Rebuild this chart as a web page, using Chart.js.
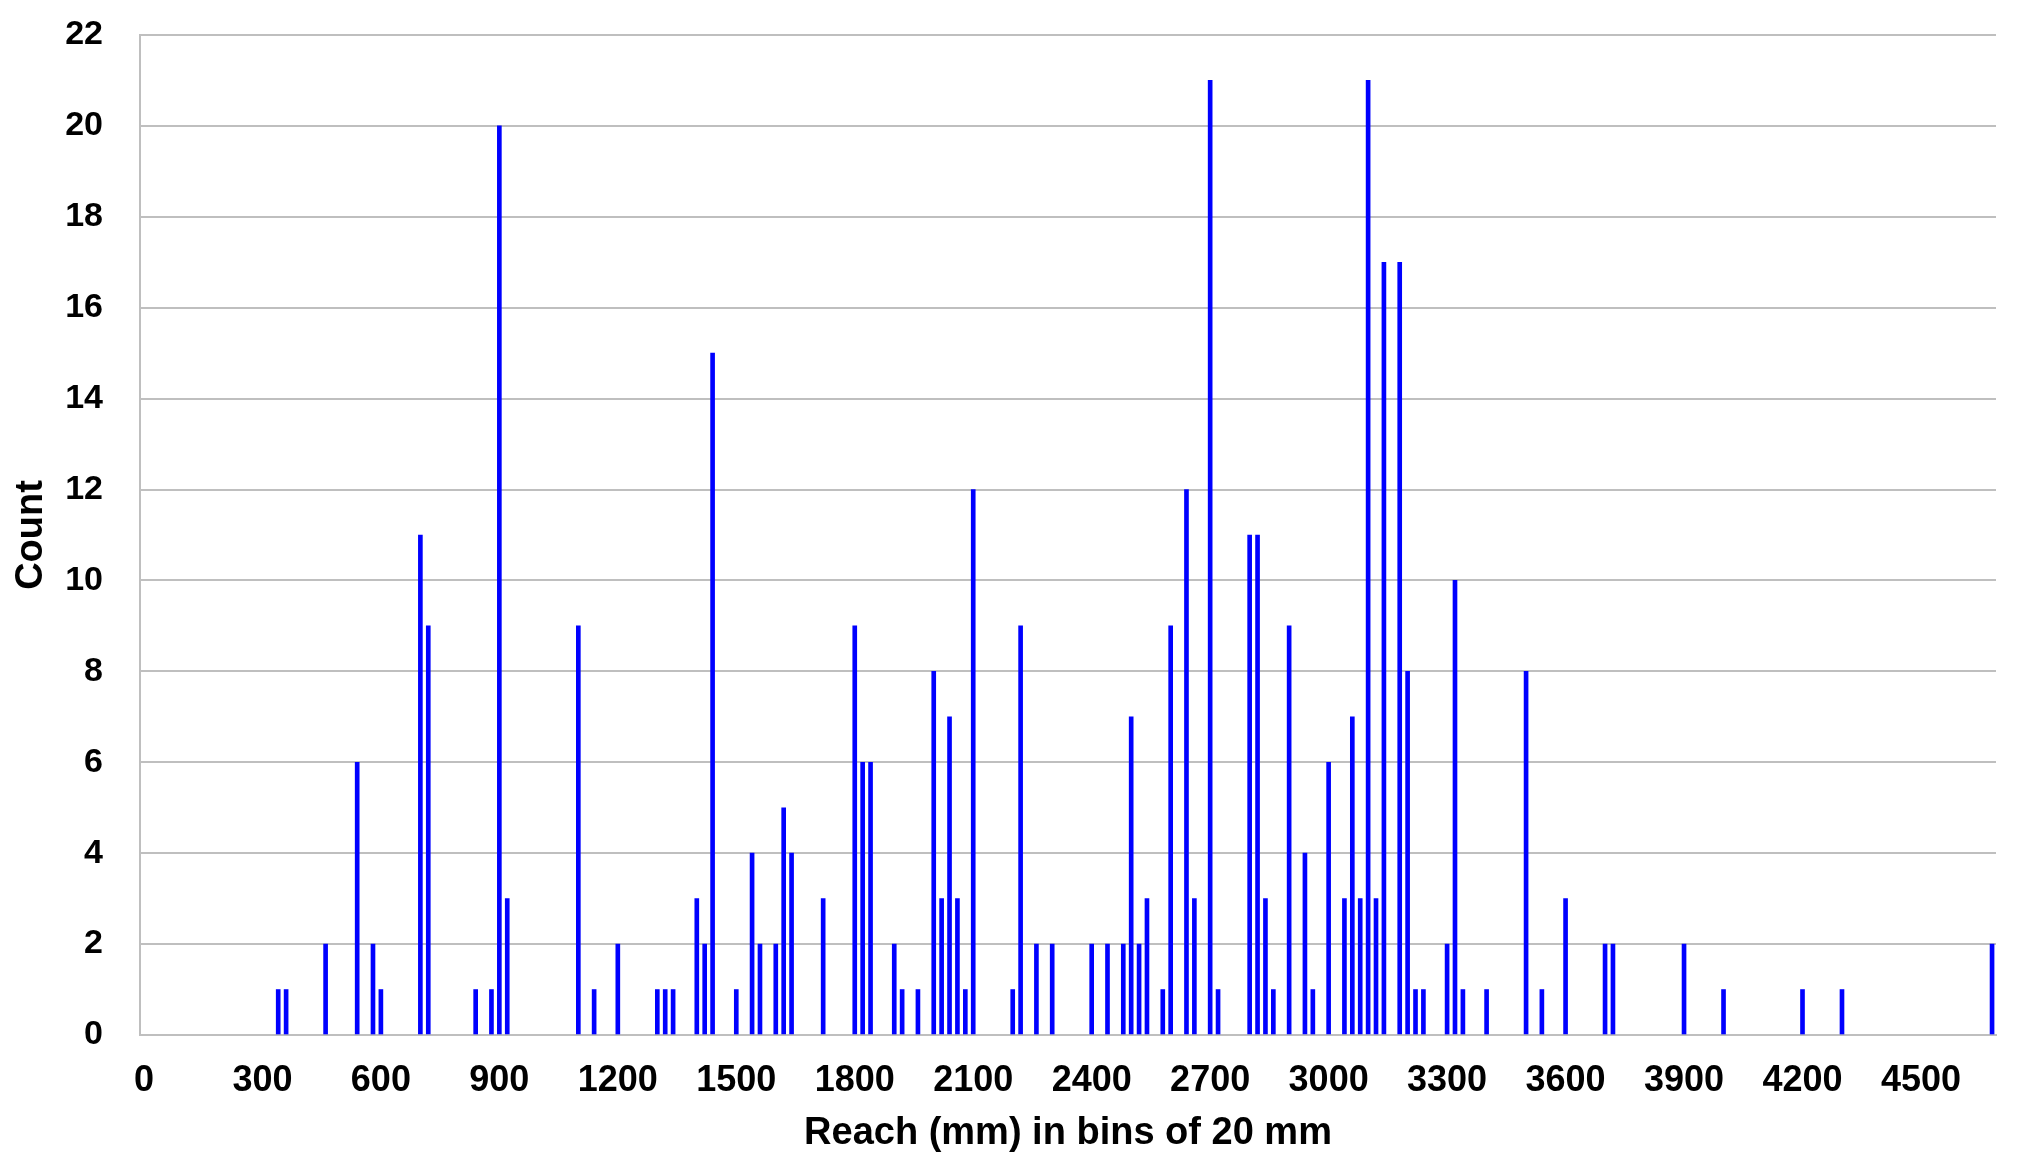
<!DOCTYPE html>
<html>
<head>
<meta charset="utf-8">
<script src="https://cdn.jsdelivr.net/npm/chart.js@4.4.1/dist/chart.umd.min.js"></script>
<style>
  html, body { margin: 0; padding: 0; background: #fff; }
  #wrap { width: 2026px; height: 1174px; position: relative; }
</style>
</head>
<body>
<div id="wrap"><canvas id="myChart" width="2026" height="1174"></canvas></div>
<script>
// reach bins (mm, 20 mm wide) that have a non-zero count
var reachBins = [340, 360, 460, 540, 580, 600, 700, 720, 840, 880,
	900, 920, 1100, 1140, 1200, 1300, 1320, 1340, 1400, 1420,
	1440, 1500, 1540, 1560, 1600, 1620, 1640, 1720, 1800, 1820,
	1840, 1900, 1920, 1960, 2000, 2020, 2040, 2060, 2080, 2100,
	2200, 2220, 2260, 2300, 2400, 2440, 2480, 2500, 2520, 2540,
	2580, 2600, 2640, 2660, 2700, 2720, 2800, 2820, 2840, 2860,
	2900, 2940, 2960, 3000, 3040, 3060, 3080, 3100, 3120, 3140,
	3180, 3200, 3220, 3240, 3300, 3320, 3340, 3400, 3500, 3540,
	3600, 3700, 3720, 3900, 4000, 4200, 4300, 4680];

var counts = [1, 1, 2, 6, 2, 1, 11, 9, 1, 1,
	20, 3, 9, 1, 2, 1, 1, 1, 3, 2,
	15, 1, 4, 2, 2, 5, 4, 3, 9, 6,
	6, 2, 1, 1, 8, 3, 7, 3, 1, 12,
	1, 9, 2, 2, 2, 2, 2, 7, 2, 3,
	1, 9, 12, 3, 21, 1, 11, 11, 3, 1,
	9, 4, 1, 6, 3, 7, 3, 21, 3, 17,
	17, 8, 1, 1, 2, 10, 1, 1, 8, 1,
	3, 2, 2, 2, 1, 1, 1, 2];

var xTicks = [0, 300, 600, 900, 1200, 1500, 1800, 2100, 2400, 2700, 3000, 3300, 3600, 3900, 4200, 4500];
var yTicks = [0, 2, 4, 6, 8, 10, 12, 14, 16, 18, 20, 22];

var points = [];
for (var i = 0; i < reachBins.length; i++) {
	points.push({x: reachBins[i], y: counts[i]});
}

var fontFamily = "'Liberation Sans', Arial, sans-serif";
var gridGray = "#bfbfbf";

var ctx = document.getElementById('myChart').getContext('2d');
var chart = new Chart(ctx, {
	type: 'bar',
	data: {
		datasets: [{
			label: "Count",
			data: points,
			backgroundColor: "#0000ff",
			borderWidth: 0,
			barThickness: 4
		}]
	},
	options: {
		responsive: false,
		animation: false,
		layout: {
			padding: {top: 35, right: 30, left: 0, bottom: 0}
		},
		plugins: {
			legend: {display: false},
			tooltip: {enabled: false}
		},
		scales: {
			x: {
				type: 'linear',
				offset: false,
				min: -10,
				max: 4690,
				afterBuildTicks: function(scale) {
					scale.ticks = xTicks.map(function(v) { return {value: v}; });
				},
				afterFit: function(scale) { scale.height = 139; },
				grid: {display: false, drawTicks: false},
				border: {display: true, color: gridGray, width: 2},
				ticks: {
					color: "#000",
					padding: 24,
					maxRotation: 0,
					autoSkip: false,
					callback: function(v) { return String(v); },
					font: {family: fontFamily, size: 36, weight: 'bold'}
				},
				title: {
					display: true,
					text: "Reach (mm) in bins of 20 mm",
					color: "#000",
					padding: {top: 0, bottom: 18},
					font: {family: fontFamily, size: 38, weight: 'bold'}
				}
			},
			y: {
				min: 0,
				max: 22,
				afterBuildTicks: function(scale) {
					scale.ticks = yTicks.map(function(v) { return {value: v}; });
				},
				afterFit: function(scale) {
					scale.width = 140;
					// tick padding would otherwise push the plot top down
					scale.paddingTop = 0;
					scale.paddingBottom = 0;
				},
				grid: {color: gridGray, lineWidth: 2, drawTicks: false},
				border: {display: true, color: gridGray, width: 2},
				ticks: {
					color: "#000",
					padding: 37,
					font: {family: fontFamily, size: 34, weight: 'bold'}
				},
				title: {
					display: true,
					text: "Count",
					color: "#000",
					padding: {top: 9, bottom: 0},
					font: {family: fontFamily, size: 38, weight: 'bold'}
				}
			}
		}
	}
});
</script>
</body>
</html>
